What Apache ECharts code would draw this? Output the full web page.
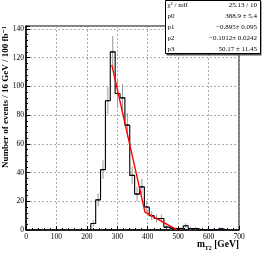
<!DOCTYPE html>
<html><head><meta charset="utf-8">
<script src="https://cdn.jsdelivr.net/npm/echarts@6/dist/echarts.min.js"></script>
<style>html,body{margin:0;padding:0;background:#fff}#c{width:266px;height:256px}</style>
</head><body><div id="c"></div>
<script>
// Histogram bins (lower edges, GeV), width 16 GeV
const binWidth = 16;
const binLow = [213,229,245,261,277,293,309,325,341,357,373,389,405,421,437,453,469,485,501,517,533,549,565,581,597,613,629,645];
const counts = [4.5,21,42,90,124,95,92,73,38,25,30,16,10,8,8,2,1,1,1,3,1,1,0,0,0,0,1,0];
const errs   = [2.1,4.6,6.5,9.5,11.1,9.7,9.6,8.5,6.2,5,5.5,4,3.2,2.8,2.8,1.4,1,1,1,1.7,1,1,0,0,0,0,1,0];
// Fit line (piecewise linear)
const fitX = [282, 391, 495];
const fitY = [115, 12.5, 0.3];
// Axis ticks
const xTicks = [0,100,200,300,400,500,600,700];
const yTicks = [0,20,40,60,80,100,120,140];
// Stats box
const statNames = ['χ² / ndf','p0','p1','p2','p3'];
const statVals = ['25.13 / 10','388.9 ± 5.4','−0.895± 0.095','−0.1012± 0.0242','50.17 ± 11.45'];

const stepData = [[binLow[0],0]];
binLow.forEach((x,i)=>stepData.push([x,counts[i]]));
stepData.push([binLow[binLow.length-1]+binWidth,0]);
const errData = binLow.map((x,i)=>[x+binWidth/2, counts[i], errs[i]]).filter(d=>d[1]>0);
const fitData = fitX.map((x,i)=>[x,fitY[i]]);

const F = '"Liberation Serif", "DejaVu Serif", serif';
const chart = echarts.init(document.getElementById('c'), null, {renderer:'canvas'});
const statGraphics = [];
statGraphics.push({type:'rect', shape:{x:166.5,y:1.5,width:95,height:54}, style:{fill:'#555'}, z:100});
statGraphics.push({type:'rect', shape:{x:165.5,y:0.5,width:95,height:53}, style:{fill:'#fff', stroke:'#000', lineWidth:1}, z:101});
statNames.forEach((n,i)=>{
  const y = 5.5 + i*10.8;
  statGraphics.push({type:'text', x:167.5, y:y, z:102, style:{text:n, font:'7px '+F, fill:'#000', textAlign:'left', textVerticalAlign:'middle'}});
  statGraphics.push({type:'text', x:257, y:y, z:102, style:{text:statVals[i], font:'7px '+F, fill:'#000', textAlign:'right', textVerticalAlign:'middle'}});
});

chart.setOption({
  animation:false,
  backgroundColor:'#fff',
  grid:{left:26, right:27, top:26, bottom:26, show:true, borderColor:'#000', borderWidth:1, backgroundColor:'transparent'},
  xAxis:{type:'value', min:xTicks[0], max:xTicks[xTicks.length-1], interval:100,
    axisLine:{show:true, onZero:false, lineStyle:{color:'#000', width:1.5}},
    axisTick:{show:true, inside:true, length:4, lineStyle:{color:'#000'}},
    minorTick:{show:true, splitNumber:5, length:2, lineStyle:{color:'#000'}},
    axisLabel:{color:'#000', fontFamily:F, fontSize:7.5, margin:3},
    splitLine:{show:true, lineStyle:{color:'#999', width:0.8, type:[2,2]}}},
  yAxis:{type:'value', min:0, max:142, interval:20,
    axisLine:{show:true, onZero:false, lineStyle:{color:'#000', width:1.5}},
    axisTick:{show:true, inside:true, length:4, lineStyle:{color:'#000'}},
    minorTick:{show:true, splitNumber:5, length:2, lineStyle:{color:'#000'}},
    axisLabel:{color:'#000', fontFamily:F, fontSize:7.5, margin:2, showMaxLabel:false,
      formatter:v=>yTicks.includes(v)?String(v):''},
    splitLine:{show:true, lineStyle:{color:'#999', width:0.8, type:[2,2]}}},
  graphic:[
    {type:'text', x:6, y:26, rotation:Math.PI/2, z:50,
      style:{text:'Number of events / 16 GeV / 100 fb⁻¹', font:'bold 9px '+F, fill:'#000', textAlign:'right', textVerticalAlign:'middle'}},
    {type:'text', x:239, y:245, z:50,
      style:{text:'{m|m}{s|T2}{m| [GeV]}', textAlign:'right', textVerticalAlign:'middle',
        rich:{m:{font:'bold 9.5px '+F, fill:'#000', lineHeight:12, verticalAlign:'middle'},
              s:{font:'bold 6px '+F, fill:'#000', lineHeight:12, verticalAlign:'bottom', padding:[4,0,0,0]}}}},
    ...statGraphics
  ],
  series:[
    {type:'custom', clip:true, z:3, data:errData,
      renderItem:(params, api)=>{
        const x = api.value(0), y = api.value(1), e = api.value(2);
        const p1 = api.coord([x, y+e]), p2 = api.coord([x, Math.max(y-e,0)]), pc = api.coord([x,y]);
        return {type:'group', children:[
          {type:'line', shape:{x1:pc[0], y1:p1[1], x2:pc[0], y2:p2[1]}, style:{stroke:'#999', lineWidth:1}},
          {type:'line', shape:{x1:pc[0]-1.5, y1:pc[1], x2:pc[0]+1.5, y2:pc[1]}, style:{stroke:'#1a1a9a', lineWidth:1}}
        ]};
      }},
    {type:'line', step:'end', data:stepData, showSymbol:false, symbol:'none', z:4,
      lineStyle:{color:'#000', width:1.1}},
    {type:'line', data:fitData, showSymbol:false, symbol:'none', z:5,
      lineStyle:{color:'#f00', width:1.4}}
  ]
});
</script></body></html>
